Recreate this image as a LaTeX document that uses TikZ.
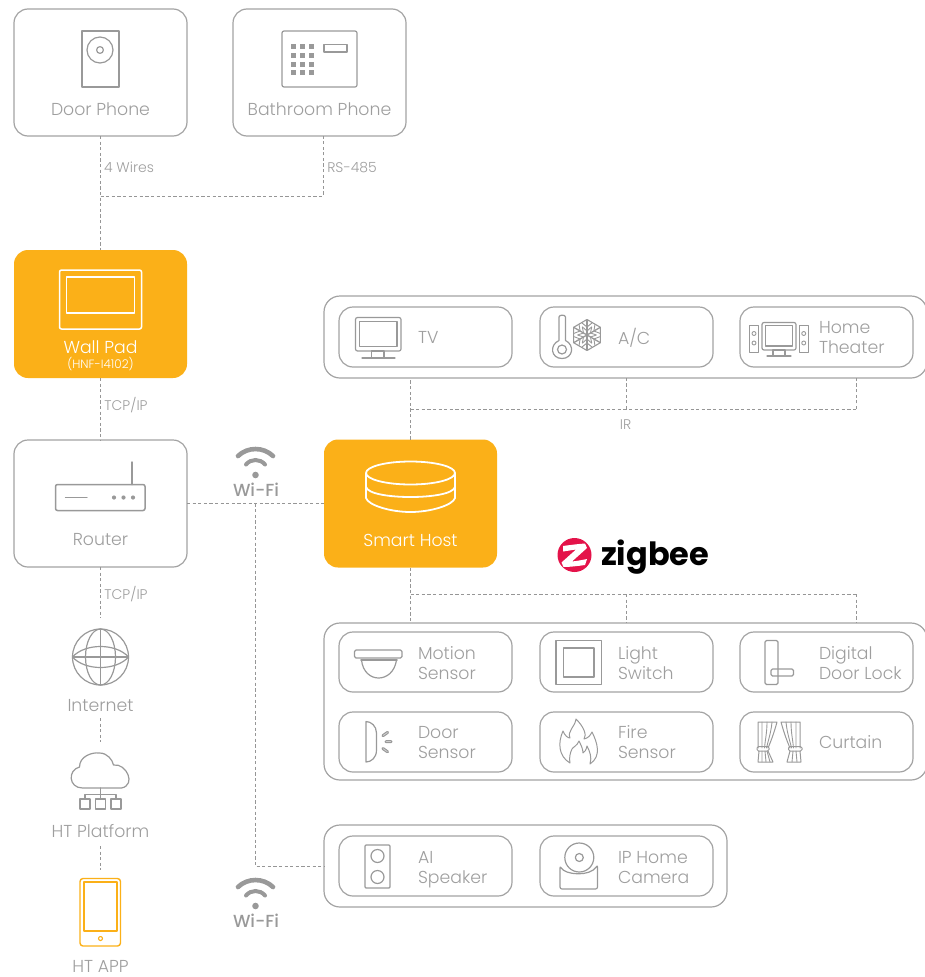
\documentclass[tikz,border=0pt]{standalone}
\usepackage{fontspec}
\setmainfont{Poppins}[UprightFont=* Light,BoldFont=* Bold]
\newfontfamily\wifont{Poppins}[UprightFont=* Medium]
\definecolor{hand}{HTML}{FBB018}
\definecolor{edge}{HTML}{A3A3A3}
\definecolor{ink}{HTML}{9E9E9E}
\definecolor{wire}{HTML}{969696}
\definecolor{icon}{HTML}{999999}
\definecolor{zred}{HTML}{E4134A}
\tikzset{
  x=1pt,y=-1pt,
  every node/.style={inner sep=0pt,outer sep=0pt,font=\fontsize{17.3}{20}\selectfont},
  card/.style={draw=edge,line width=1.2pt,rounded corners=14pt,minimum width=173pt,minimum height=127pt},
  hot/.style={fill=hand,rounded corners=14pt,minimum width=173pt,minimum height=128pt},
  group/.style={draw=edge,line width=1.2pt,rounded corners=16pt},
  dev/.style={draw=edge,line width=1.2pt,rounded corners=14pt,minimum width=173pt,minimum height=60pt},
  lab/.style={text=ink,align=center},
  devlab/.style={text=ink,align=left,anchor=west,execute at begin node=\strut,execute at end node=\strut},
  wirelab/.style={text=ink,font=\fontsize{14}{16}\selectfont},
  wiring/.style={draw=wire,line width=1pt,dash pattern=on 3.2pt off 2.4pt},
  ico/.style={draw=icon,line width=1.2pt,line join=round,line cap=round},
  whiteico/.style={draw=white,line width=1.5pt,line join=round},
  orangeico/.style={draw=hand,line width=1.4pt,line join=round}
}
\newcommand{\wifimark}[3]{%
  \begin{scope}[shift={(#1,#2)}]
    \draw[icon,line width=4.6pt,line cap=round] (-17.5,-19) .. controls (-8,-28.3) and (8,-28.3) .. (17.5,-19);
    \draw[icon,line width=4pt,line cap=round] (-9.5,-10.5) .. controls (-4.5,-16.5) and (4.5,-16.5) .. (9.5,-10.5);
    \fill[icon] (0,0) circle (3.3);
  \end{scope}
  \node[text=icon,font=\fontsize{17.5}{20}\selectfont\wifont] (#3) at (#1+0.5,#2+15) {Wi-Fi};
}
\begin{document}
\begin{tikzpicture}
\useasboundingbox (0,0) rectangle (925,977);
% ---- main cards
\node[card] (door) at (100.5,72.5) {};
\node[card] (bath) at (319.5,72.5) {};
\node[hot] (wall) at (100.5,314) {};
\node[card] (router) at (100.5,503.5) {};
\node[hot] (host) at (410.5,503.5) {};
% ---- groups
\node[group,minimum width=603pt,minimum height=82pt] (tvgroup) at (625.5,337) {};
\node[group,minimum width=603pt,minimum height=157pt] (zgroup) at (625.5,701.5) {};
\node[group,minimum width=403pt,minimum height=82pt] (ipgroup) at (525.5,866) {};
% ---- devices
\node[dev] (tv) at (425.5,337) {};
\node[dev] (ac) at (626.5,337) {};
\node[dev] (ht) at (826.5,337) {};
\node[dev] (motion) at (425.5,662) {};
\node[dev] (light) at (626.5,662) {};
\node[dev] (lock) at (826.5,662) {};
\node[dev] (dsensor) at (425.5,742) {};
\node[dev] (fire) at (626.5,742) {};
\node[dev] (curtain) at (826.5,742) {};
\node[dev] (speaker) at (425.5,866) {};
\node[dev] (camera) at (626.5,866) {};
% ---- card labels
\node[lab] (doorl) at (100.5,109) {Door Phone};
\node[lab] (bathl) at (319.5,109) {Bathroom Phone};
\node[text=white] (walll) at (100.5,347) {Wall Pad};
\node[text=white,font=\fontsize{12}{14}\selectfont] (wallm) at (100.5,364.5) {(HNF-I4102)};
\node[lab] (routerl) at (100.5,540) {Router};
\node[text=white] (hostl) at (410.5,540) {Smart Host};
\node[lab] (netl) at (100.5,706) {Internet};
\node[lab] (platl) at (100.5,831) {HT Platform};
\node[lab] (appl) at (100.5,966) {HT APP};
% ---- device labels
\node[devlab] (tvl) at (418,339.5) {TV};
\node[devlab] (acl) at (618,339.5) {A/C};
\node[devlab] (htl) at (819,340.5) {Home\\Theater};
\node[devlab] (motionl) at (418,665.5) {Motion\\Sensor};
\node[devlab] (lightl) at (618,665.5) {Light\\Switch};
\node[devlab] (lockl) at (819,665.5) {Digital\\Door Lock};
\node[devlab] (dsensorl) at (418,745) {Door\\Sensor};
\node[devlab] (firel) at (618,745) {Fire\\Sensor};
\node[devlab] (curtainl) at (819,744) {Curtain};
\node[devlab] (speakerl) at (418,870) {AI\\Speaker};
\node[devlab] (cameral) at (618,870) {IP Home\\Camera};
% ---- connector labels
\node[wirelab] (w4) at (129,167.5) {4 Wires};
\node[wirelab] (w485) at (352,167.5) {RS-485};
\node[wirelab] (wtcp1) at (126,405.5) {TCP/IP};
\node[wirelab] (wtcp2) at (126,594.5) {TCP/IP};
\node[wirelab] (wir) at (625.5,424.5) {IR};
% ---- named connector points
\coordinate (j1) at (100.5,196);
\coordinate (b1) at (323,136);
\coordinate (j2) at (410.5,409);
\coordinate (j3) at (410.5,594);
\coordinate (k1) at (626,409);
\coordinate (k2) at (856,409);
\coordinate (k3) at (626,594);
\coordinate (k4) at (856,594);
\coordinate (n1) at (100.5,618);
\coordinate (n2) at (100.5,718);
\coordinate (n3) at (100.5,742);
\coordinate (n4) at (100.5,846);
\coordinate (n5) at (100.5,870);
\coordinate (r1) at (255,503.5);
% ---- connectors
\draw[wiring] (door.south) -- (wall.north);
\draw[wiring] (j1) -| (b1);
\draw[wiring] (wall.south) -- (router.north);
\draw[wiring] (router.south) -- (n1);
\draw[wiring] (n2) -- (n3);
\draw[wiring] (n4) -- (n5);
\draw[wiring] (router.east) -- (host.west);
\draw[wiring] (r1) |- (ipgroup.west);
\draw[wiring] (host.north) -- (tvgroup.south -| host.north);
\draw[wiring] (j2) -- (k2);
\draw[wiring] (k1) -- (k1 |- tvgroup.south);
\draw[wiring] (k2) -- (k2 |- tvgroup.south);
\draw[wiring] (host.south) -- (zgroup.north -| host.south);
\draw[wiring] (j3) -- (k4);
\draw[wiring] (k3) -- (k3 |- zgroup.north);
\draw[wiring] (k4) -- (k4 |- zgroup.north);
% ---- door phone icon
\draw[ico] (82,31) rectangle (119,87);
\draw[ico] (100,50) circle (13);
\draw[ico] (100,50) circle (3.4);
% ---- bathroom phone icon
\draw[ico,rounded corners=2pt] (282,31) rectangle (357,87);
\foreach \cx in {293.5,302.5,311.5}
  \foreach \cy in {46.5,55.5,64.5,72.5}
    \fill[icon] (\cx-2.5,\cy-2.5) rectangle (\cx+2.5,\cy+2.5);
\draw[ico] (324,44.5) rectangle (347,52);
% ---- wall pad icon
\draw[whiteico,rounded corners=2pt] (59.5,270) rectangle (141.5,329);
\draw[whiteico] (66.5,277) rectangle (134.5,313);
% ---- router icon
\draw[ico,line width=1.5pt,rounded corners=2pt] (55.5,484.5) rectangle (145,510.5);
\draw[ico,line width=1.5pt] (132,462) -- (132,484.5);
\draw[ico] (65.5,497.5) -- (87,497.5);
\foreach \cx in {114,123.5,133} \fill[icon] (\cx,497.5) circle (2.1);
% ---- globe icon
\draw[ico] (100.5,657) circle (28);
\draw[ico] (100.5,657) ellipse (15 and 28);
\draw[ico] (72.5,657) .. controls (85,643) and (116,643) .. (128.5,657) .. controls (116,671) and (85,671) .. cycle;
\draw[ico] (100.5,629) -- (100.5,685);
\draw[ico] (72.5,657) -- (128.5,657);
% ---- cloud icon
\draw[ico] (82.5,788) .. controls (68.5,788) and (67.5,770) .. (79.5,767) .. controls (79.5,756) and (92.5,752) .. (99.5,753)
  .. controls (107.5,753) and (112.5,760) .. (113.5,765) .. controls (126.5,763) and (136.5,785) .. (121.5,788) -- cycle;
\draw[ico] (100.5,788) -- (100.5,799);
\draw[ico] (85,799) -- (85,794.5) -- (116,794.5) -- (116,799);
\foreach \cx in {85,100.5,116} \draw[ico] (\cx-5,799) rectangle (\cx+5,809);
% ---- app icon
\draw[orangeico,rounded corners=3pt] (80,878.5) rectangle (120.5,946);
\draw[orangeico,line width=1.2pt] (84,882) rectangle (117,931);
\draw[orangeico,line width=1.1pt] (100.5,938.5) circle (2);
% ---- smart host icon
\draw[whiteico,line width=1.8pt] (366,473) arc[start angle=180,end angle=540,x radius=44.5,y radius=11.5];
\draw[whiteico,line width=1.8pt] (366,473) -- (366,498) .. controls (368,505) and (390,512) .. (410.5,512) .. controls (431,512) and (453,505) .. (455,498) -- (455,473);
\draw[whiteico,line width=1.8pt] (366,487) .. controls (368,494) and (390,497) .. (410.5,497) .. controls (431,497) and (453,494) .. (455,487);
% ---- TV icon
\draw[ico,rounded corners=2pt] (355.5,317.5) rectangle (401,351);
\draw[ico] (359.5,321.5) rectangle (397,346.5);
\draw[ico] (371.5,351) rectangle (384,357.5);
\draw[ico] (362,358) -- (395,358);
% ---- AC icon
\draw[ico] (559,317) .. controls (559,314.5) and (565.5,314.5) .. (565.5,317) -- (565.5,340.5)
  .. controls (575,345) and (573,358.5) .. (562,358.5) .. controls (551,358.5) and (549,345) .. (559,340.5) -- cycle;
\draw[ico] (562,349.5) circle (4.5);
\begin{scope}[shift={(587,335)}]
  \draw[ico,line width=1.1pt] (0,-15.5) -- (13.4,-7.7) -- (13.4,7.7) -- (0,15.5) -- (-13.4,7.7) -- (-13.4,-7.7) -- cycle;
  \foreach \a in {0,60,120} {
    \begin{scope}[rotate=\a]
      \draw[ico,line width=1.3pt] (0,-15) -- (0,15);
      \draw[ico,line width=0.9pt] (-5,-12) -- (0,-8) -- (5,-12);
      \draw[ico,line width=0.9pt] (-5,12) -- (0,8) -- (5,12);
      \draw[ico,line width=0.9pt] (-4.5,-8) -- (0,-4) -- (4.5,-8);
      \draw[ico,line width=0.9pt] (-4.5,8) -- (0,4) -- (4.5,8);
    \end{scope}
  }
\end{scope}
% ---- home theater icon
\draw[ico,line width=0.9pt] (749.5,325) rectangle (758.5,352);
\draw[ico,line width=0.9pt] (799,325) rectangle (808.5,352);
\foreach \cx in {754,803.7} {\draw[ico,line width=0.9pt] (\cx,333.5) circle (2); \draw[ico,line width=0.9pt] (\cx,343) circle (2);}
\draw[ico,rounded corners=2pt] (762,322.5) rectangle (796,350);
\draw[ico] (765.5,325.5) rectangle (792.5,346);
\draw[ico] (773,350) rectangle (785,356);
\draw[ico] (767,356) -- (791,356);
% ---- motion icon
\draw[ico,rounded corners=1.5pt] (354.5,650) rectangle (402,658);
\draw[ico,line width=1.6pt] (361,660) -- (397,660);
\draw[ico] (361.5,660) .. controls (364,684) and (393,684) .. (396.5,660);
% ---- light switch icon
\draw[ico] (556,640.5) rectangle (601.5,684.5);
\draw[ico] (563.5,648) rectangle (594,677);
% ---- lock icon
\draw[ico,rounded corners=1.5pt] (765,640.5) rectangle (778,684.5);
\draw[ico,rounded corners=1.5pt] (771,669) rectangle (793.5,676);
% ---- door sensor icon
\draw[ico] (366,721.5) -- (366,762) .. controls (371,762) and (376.5,758) .. (376.5,750) -- (376.5,733) .. controls (376.5,726) and (371,721.5) .. (366,721.5) -- cycle;
\draw[ico,line width=1pt,fill=icon!40,rounded corners=1pt,rotate around={35:(385.3,734)}] (381.5,733) rectangle (389,735);
\draw[ico,line width=1pt,fill=icon!40,rounded corners=1pt] (385,740.7) rectangle (392,742.7);
\draw[ico,line width=1pt,fill=icon!40,rounded corners=1pt,rotate around={-35:(385,750)}] (381.5,749) rectangle (389,751);
% ---- fire icon
\draw[ico,line width=1pt] (576,719) .. controls (584,727) and (587,735) .. (584,739) .. controls (588,738) and (590,736) .. (592,732)
  .. controls (597,742) and (602,756) .. (590,764) .. controls (592,757) and (590,752) .. (587,746)
  .. controls (586,750) and (585,752) .. (583,753) .. controls (583,749) and (581,745) .. (579,741)
  .. controls (577,746) and (573,747) .. (572,749) .. controls (570,753) and (569,758) .. (570,763)
  .. controls (558,756) and (558,742) .. (563,731) .. controls (565,736) and (568,738) .. (570,738)
  .. controls (567,731) and (575,727) .. (576,719) -- cycle;
% ---- curtain icon
\draw[ico,line width=1pt] (758,748) -- (758,722) -- (777,722) .. controls (774,733) and (771,741) .. (768,748);
\draw[ico,line width=0.9pt] (762,722) -- (762,748) (767,722) .. controls (767,733) and (765,741) .. (764.5,748) (772,722) .. controls (771,733) and (768,741) .. (766.5,748);
\draw[ico,line width=1pt,rounded corners=1.5pt] (757,746.5) rectangle (769,751);
\draw[ico,line width=1pt] (759,751) -- (758,762) -- (773,762) -- (768,751);
\draw[ico,line width=0.9pt] (762,751) -- (762,762) (765,751) -- (766,762) (767,751) -- (770,762);
\draw[ico,line width=1pt] (800,748) -- (800,722) -- (781,722) .. controls (784,733) and (787,741) .. (790,748);
\draw[ico,line width=0.9pt] (796,722) -- (796,748) (791,722) .. controls (791,733) and (793,741) .. (793.5,748) (786,722) .. controls (787,733) and (790,741) .. (791.5,748);
\draw[ico,line width=1pt,rounded corners=1.5pt] (788.5,746.5) rectangle (802,751);
\draw[ico,line width=1pt] (790,751) -- (787,762) -- (801,762) -- (800,751);
\draw[ico,line width=0.9pt] (796,751) -- (797,762) (793,751) -- (792,762);
% ---- speaker icon
\draw[ico,rounded corners=1pt] (365,845) rectangle (390,888);
\draw[ico] (377.5,856) circle (6.5);
\draw[ico] (377.5,877) circle (6.5);
% ---- camera icon
\draw[ico,rounded corners=2pt] (560,889) -- (560,866) .. controls (565,875) and (590,877) .. (597.5,865) -- (597.5,889) -- cycle;
\draw[ico] (579.3,857.5) circle (14.5);
\draw[ico] (579.3,857.5) circle (4);
% ---- wifi
\wifimark{255.5}{475}{wifia}
\wifimark{255.5}{906}{wifib}
% ---- zigbee
\fill[zred] (574.5,555) circle (17);
\fill[white] (563,546) .. controls (570,545) and (578,544) .. (585,543.5) -- (587,548) -- (572,561.5) .. controls (577,561) and (582,560) .. (587,559) -- (585,565) .. controls (578,566) and (570,567) .. (563.5,567) -- (561.5,562.5) -- (576,549.5) .. controls (572,550) and (567,551) .. (563,551.5) -- cycle;
\node[text=black,font=\fontsize{32}{36}\selectfont\bfseries,anchor=base west] (zig) at (601,565) {zigbee};
\end{tikzpicture}
\end{document}
